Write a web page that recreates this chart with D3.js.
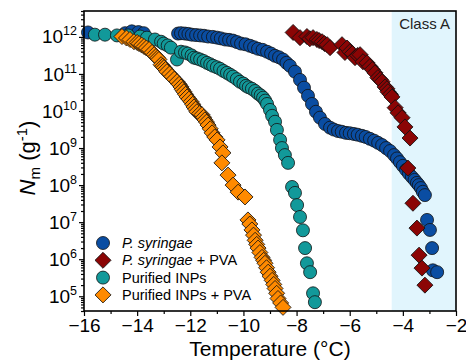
<!DOCTYPE html>
<html>
<head>
<meta charset="utf-8">
<script src="https://cdn.jsdelivr.net/npm/d3@7"></script>
<style>
  body { margin: 0; background: #fff; }
  svg { font-family: "Liberation Sans", Arial, sans-serif; }
</style>
</head>
<body>
<svg id="chart" width="466" height="362"></svg>
<script>
// values (temperature in °C, log10 of N_m)
const psyrTemp = [-15.85, -14.45, -14.2, -13.95, -13.75, -12.46, -12.35, -12.2, -12.07, -11.94, -11.78, -11.63, -11.48, -11.33, -11.15, -10.99, -10.85, -10.69, -10.54, -10.39, -10.24, -10.09, -9.92, -9.75, -9.6, -9.45, -9.28, -9.11, -8.96, -8.81, -8.66, -8.51, -8.38, -8.25, -8.06, -7.87, -7.72, -7.57, -7.42, -7.27, -7.12, -6.93, -6.74, -6.6, -6.44, -6.3, -6.14, -6.0, -5.84, -5.7, -5.54, -5.4, -5.24, -5.08, -4.93, -4.78, -4.63, -4.48, -4.33, -4.22, -4.11, -4.0, -3.88, -3.77, -3.66, -3.56, -3.47, -3.4, -3.32, -3.25, -3.17, -3.09, -2.98, -2.90, -2.87, -2.71];
const psyrLogN = [12.12, 12.10, 12.15, 12.13, 12.10, 12.09, 12.10, 12.09, 12.08, 12.06, 12.05, 12.04, 12.03, 12.01, 12.00, 11.98, 11.96, 11.93, 11.92, 11.90, 11.86, 11.82, 11.80, 11.76, 11.72, 11.68, 11.65, 11.60, 11.55, 11.49, 11.45, 11.39, 11.30, 11.22, 11.06, 10.84, 10.63, 10.41, 10.19, 9.98, 9.82, 9.65, 9.55, 9.50, 9.46, 9.44, 9.41, 9.40, 9.38, 9.36, 9.33, 9.30, 9.25, 9.20, 9.14, 9.08, 9.00, 8.92, 8.81, 8.72, 8.62, 8.52, 8.41, 8.31, 8.22, 8.14, 8.06, 8.00, 7.92, 7.82, 7.73, 7.06, 6.79, 6.30, 5.70, 5.65];

const psyrPvaTemp = [-8.13, -7.87, -7.61, -7.5, -7.38, -7.23, -7.15, -7.04, -6.95, -6.85, -6.74, -6.29, -6.18, -6.1, -5.99, -5.9, -5.80, -5.7, -5.61, -5.50, -5.35, -5.24, -5.15, -5.05, -4.94, -4.85, -4.78, -4.67, -4.6, -4.56, -4.47, -4.41, -4.29, -4.18, -4.03, -3.92, -3.73, -3.81, -3.62, -3.47, -3.39, -3.28, -3.17];
const psyrPvaLogN = [12.12, 11.98, 12.01, 11.95, 11.98, 11.93, 11.90, 11.87, 11.82, 11.79, 11.71, 11.79, 11.58, 11.70, 11.60, 11.55, 11.44, 11.50, 11.52, 11.33, 11.30, 11.20, 11.12, 11.03, 10.90, 10.85, 10.79, 10.65, 10.60, 10.52, 10.45, 10.38, 10.09, 9.95, 9.82, 9.57, 9.27, 8.46, 7.51, 6.84, 6.11, 5.76, 5.30];

const inpTemp = [-15.59, -15.21, -14.76, -14.34, -13.89, -13.63, -13.33, -13.10, -13.0, -12.85, -12.73, -12.50, -12.35, -12.2, -12.09, -11.95, -11.86, -11.75, -11.63, -11.5, -11.37, -11.25, -11.14, -11.0, -10.88, -10.75, -10.62, -10.5, -10.39, -10.25, -10.13, -10.0, -9.90, -9.8, -9.68, -9.56, -9.45, -9.35, -9.26, -9.18, -9.11, -9.00, -8.92, -8.81, -8.74, -8.62, -8.55, -8.44, -8.32, -8.17, -8.06, -7.98, -7.87, -7.76, -7.68, -7.61, -7.49, -7.38, -7.31];
const inpLogN = [12.06, 12.06, 12.04, 12.04, 12.01, 11.98, 11.93, 11.87, 11.82, 11.77, 11.71, 11.39, 11.60, 11.58, 11.55, 11.50, 11.44, 11.42, 11.39, 11.35, 11.30, 11.26, 11.22, 11.18, 11.14, 11.08, 11.03, 10.98, 10.93, 10.86, 10.79, 10.74, 10.68, 10.64, 10.60, 10.54, 10.47, 10.42, 10.36, 10.28, 10.19, 10.03, 9.87, 9.71, 9.49, 9.22, 9.00, 8.81, 8.60, 7.95, 7.79, 7.46, 7.14, 6.78, 6.30, 5.89, 5.65, 5.08, 4.84];

const inpPvaTemp = [-14.57, -14.4, -14.27, -14.12, -14.0, -13.93, -13.83, -13.74, -13.65, -13.55, -13.44, -13.36, -13.29, -13.23, -13.18, -13.10, -13.04, -12.99, -12.93, -12.88, -12.78, -12.69, -12.6, -12.50, -12.42, -12.35, -12.3, -12.24, -12.18, -12.12, -12.05, -11.97, -11.91, -11.86, -11.8, -11.75, -11.65, -11.56, -11.5, -11.45, -11.39, -11.33, -11.25, -11.18, -11.08, -10.99, -10.88, -10.77, -10.81, -10.58, -10.39, -10.20, -9.94, -9.83, -9.76, -9.68, -9.62, -9.56, -9.5, -9.45, -9.38, -9.30, -9.24, -9.19, -9.13, -9.07, -9.0, -8.92, -8.86, -8.81, -8.75, -8.70, -8.6, -8.51];
const inpPvaLogN = [12.01, 11.97, 11.93, 11.87, 11.85, 11.82, 11.78, 11.74, 11.70, 11.66, 11.58, 11.52, 11.47, 11.43, 11.39, 11.25, 11.21, 11.17, 11.12, 11.06, 11.00, 10.93, 10.86, 10.79, 10.72, 10.65, 10.58, 10.52, 10.45, 10.38, 10.32, 10.25, 10.18, 10.11, 10.05, 9.98, 9.93, 9.90, 9.83, 9.76, 9.70, 9.62, 9.52, 9.41, 9.30, 9.22, 9.03, 8.87, 8.60, 8.27, 8.00, 7.81, 7.68, 7.06, 6.95, 6.79, 6.65, 6.51, 6.40, 6.30, 6.18, 6.05, 5.97, 5.89, 5.77, 5.65, 5.54, 5.43, 5.32, 5.21, 5.08, 4.94, 4.82, 4.70];

const xTicks = [-16, -14, -12, -10, -8, -6, -4, -2];
const yTickExp = [5, 6, 7, 8, 9, 10, 11, 12];
const classA = [-4.42, -2];

const series = [
  { name: 'P. syringae', italic: 'P. syringae', rest: '', t: psyrTemp, v: psyrLogN, shape: 'circle', color: '#0a4da2' },
  { name: 'P. syringae + PVA', italic: 'P. syringae', rest: ' + PVA', t: psyrPvaTemp, v: psyrPvaLogN, shape: 'diamond', color: '#8b0505' },
  { name: 'Purified INPs', italic: '', rest: 'Purified INPs', t: inpTemp, v: inpLogN, shape: 'circle', color: '#12999a' },
  { name: 'Purified INPs + PVA', italic: '', rest: 'Purified INPs + PVA', t: inpPvaTemp, v: inpPvaLogN, shape: 'diamond', color: '#ff8a00' }
];

const svg = d3.select('#chart');
const mLeft = 84, mRight = 456, mTop = 11, mBottom = 311;

const x = d3.scaleLinear().domain([-16, -2]).range([mLeft, mRight]);
const y = d3.scaleLog().domain([4e4, 5e12]).range([mBottom, mTop]);

// class A band
svg.append('rect')
  .attr('x', x(classA[0])).attr('y', mTop)
  .attr('width', x(classA[1]) - x(classA[0])).attr('height', mBottom - mTop)
  .attr('fill', '#e1f5fd');

svg.append('text')
  .attr('x', 450).attr('y', 29)
  .attr('text-anchor', 'end')
  .attr('font-size', 15)
  .attr('fill', '#222')
  .text('Class A');

// markers
const circleSym = d3.symbol().type(d3.symbolCircle).size(Math.PI * 6.5 * 6.5);
const squareSym = d3.symbol().type(d3.symbolSquare).size(128);

function drawMarker(g, shape, color, cx, cy) {
  if (shape === 'circle') {
    g.append('path').attr('d', circleSym())
      .attr('transform', `translate(${cx},${cy})`)
      .attr('fill', color).attr('stroke', '#111').attr('stroke-width', 0.8);
  } else {
    g.append('path').attr('d', squareSym())
      .attr('transform', `translate(${cx},${cy}) rotate(45)`)
      .attr('fill', color).attr('stroke', '#111').attr('stroke-width', 0.8);
  }
}

const plot = svg.append('g');
series.forEach(s => {
  const g = plot.append('g');
  s.t.forEach((t, i) => drawMarker(g, s.shape, s.color, x(t), y(Math.pow(10, s.v[i]))));
});

// axes
const xAxis = svg.append('g')
  .attr('transform', `translate(0,${mBottom})`)
  .call(d3.axisBottom(x).tickValues(xTicks).tickSize(5).tickPadding(3).tickFormat(d3.format('d')));
svg.append('g')
  .attr('transform', `translate(0,${mBottom})`)
  .call(d3.axisBottom(x).tickValues(d3.range(-15, -2, 2)).tickSize(3).tickFormat(''));

const yAxis = svg.append('g')
  .attr('transform', `translate(${mLeft},0)`)
  .call(d3.axisLeft(y).tickValues(yTickExp.map(e => Math.pow(10, e))).tickSize(5).tickPadding(2).tickFormat(''));

const minorY = [];
for (let e = 4; e <= 12; e++) {
  for (let k = 2; k <= 9; k++) {
    const v = k * Math.pow(10, e);
    if (v >= 4e4 && v <= 5e12) minorY.push(v);
  }
}
svg.append('g')
  .attr('transform', `translate(${mLeft},0)`)
  .call(d3.axisLeft(y).tickValues(minorY).tickSize(3).tickFormat(''));

svg.selectAll('.domain').remove();
svg.selectAll('.tick line').attr('stroke', '#000').attr('stroke-width', 1.2);

xAxis.selectAll('text').attr('font-size', 19).attr('fill', '#000');

// 10^n labels
yAxis.selectAll('.tick text').each(function(d) {
  const t = d3.select(this).attr('font-size', 19).attr('fill', '#000');
  t.append('tspan').text('10');
  t.append('tspan').attr('font-size', 12.5).attr('dy', -8).text(Math.round(Math.log10(d)));
});

// frame
svg.append('rect')
  .attr('x', mLeft).attr('y', mTop)
  .attr('width', mRight - mLeft).attr('height', mBottom - mTop)
  .attr('fill', 'none').attr('stroke', '#000').attr('stroke-width', 1.6);

// axis titles
svg.append('text')
  .attr('x', x(-9)).attr('y', 356)
  .attr('text-anchor', 'middle')
  .attr('font-size', 21)
  .text('Temperature (°C)');

const yl = svg.append('text')
  .attr('transform', 'translate(35,158) rotate(-90)')
  .attr('text-anchor', 'middle')
  .attr('font-size', 22);
yl.append('tspan').attr('font-style', 'italic').text('N');
yl.append('tspan').attr('font-size', 15).attr('dy', 5).text('m');
yl.append('tspan').attr('dy', -5).text(' (g');
yl.append('tspan').attr('font-size', 15).attr('dy', -8).text('-1');
yl.append('tspan').attr('dy', 8).text(')');

// legend
const legend = svg.append('g');
series.forEach((s, i) => {
  const ly = 243 + i * 17.3;
  drawMarker(legend, s.shape, s.color, 103, ly);
  const t = legend.append('text')
    .attr('x', 122).attr('y', ly + 5)
    .attr('font-size', 14.5);
  if (s.italic) t.append('tspan').attr('font-style', 'italic').text(s.italic);
  t.append('tspan').text(s.rest);
});
</script>
</body>
</html>
